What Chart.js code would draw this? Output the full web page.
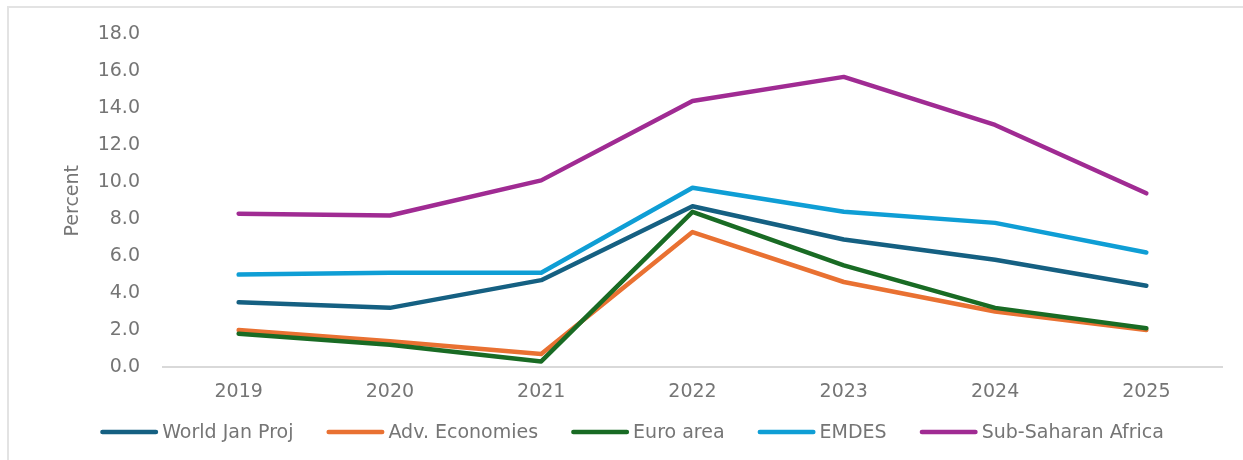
<!DOCTYPE html>
<html>
<head>
<meta charset="utf-8">
<script src="https://cdn.jsdelivr.net/npm/chart.js@4.4.1/dist/chart.umd.min.js"></script>
<style>
  html, body { margin: 0; padding: 0; background: #ffffff; }
  #wrap { position: relative; width: 1243px; height: 460px; overflow: hidden; }
  #frame { position: absolute; left: 7px; top: 6px; right: -10px; bottom: -10px;
           border-left: 2px solid #e3e3e3; border-top: 2px solid #e3e3e3; }
  canvas { position: absolute; left: 0; top: 0; }
</style>
</head>
<body>
<div id="wrap">
  <div id="frame"></div>
  <canvas id="chart" width="1243" height="460"></canvas>
</div>
<script>
// Inflation, percent
const years = ['2019', '2020', '2021', '2022', '2023', '2024', '2025'];
const worldJanProj     = [3.5, 3.2, 4.7, 8.7, 6.9, 5.8, 4.4];
const advEconomies     = [2.0, 1.4, 0.7, 7.3, 4.6, 3.0, 2.0];
const euroArea         = [1.8, 1.2, 0.3, 8.4, 5.5, 3.2, 2.1];
const emdes            = [5.0, 5.1, 5.1, 9.7, 8.4, 7.8, 6.2];
const subSaharanAfrica = [8.3, 8.2, 10.1, 14.4, 15.7, 13.1, 9.4];
const seriesNames = ['World Jan Proj', 'Adv. Economies', 'Euro area', 'EMDES', 'Sub-Saharan Africa'];
const yMin = 0, yMax = 18, yStep = 2;

const seriesValues = [worldJanProj, advEconomies, euroArea, emdes, subSaharanAfrica];
const seriesColors = ['#156082', '#E97132', '#196B24', '#0F9ED5', '#A02B93'];

const textColor = '#757575';
const fontFamily = '"DejaVu Sans", sans-serif';

// Legend drawn as short rounded line swatches followed by the series name
const lineLegend = {
  id: 'lineLegend',
  afterDraw(chart, args, opts) {
    const ctx = chart.ctx;
    ctx.save();
    ctx.font = opts.font;
    const items = chart.data.datasets.map(ds => ({
      text: ds.label, color: ds.borderColor, w: ctx.measureText(ds.label).width
    }));
    const total = items.reduce((s, it) => s + opts.lineLength + opts.gap + it.w, 0)
                + opts.spacing * (items.length - 1);
    let x = opts.centerX - total / 2;
    const y = opts.y;
    ctx.textBaseline = 'middle';
    ctx.textAlign = 'left';
    items.forEach(it => {
      ctx.strokeStyle = it.color;
      ctx.lineWidth = opts.lineWidth;
      ctx.lineCap = 'round';
      ctx.beginPath();
      ctx.moveTo(x + opts.lineWidth / 2, y);
      ctx.lineTo(x + opts.lineLength - opts.lineWidth / 2, y);
      ctx.stroke();
      ctx.fillStyle = opts.color;
      ctx.fillText(it.text, x + opts.lineLength + opts.gap, y + 1);
      x += opts.lineLength + opts.gap + it.w + opts.spacing;
    });
    ctx.restore();
  }
};

const datasets = seriesNames.map((name, i) => ({
  label: name,
  data: seriesValues[i],
  borderColor: seriesColors[i],
  backgroundColor: seriesColors[i],
  borderWidth: 4.5,
  borderCapStyle: 'round',
  borderJoinStyle: 'round',
  pointRadius: 0,
  pointHoverRadius: 0,
  tension: 0,
  fill: false,
  order: seriesNames.length - i
}));

new Chart(document.getElementById('chart'), {
  type: 'line',
  data: { labels: years, datasets },
  plugins: [lineLegend],
  options: {
    responsive: false,
    animation: false,
    devicePixelRatio: 1,
    layout: { padding: { top: 16.6, right: 21, bottom: 0, left: 0 } },
    plugins: {
      legend: { display: false },
      tooltip: { enabled: false },
      lineLegend: {
        font: '19px ' + fontFamily,
        color: textColor,
        lineLength: 58,
        lineWidth: 4.5,
        gap: 4,
        spacing: 33,
        centerX: 632,
        y: 432
      }
    },
    scales: {
      x: {
        offset: true,
        grid: { display: true, color: 'rgba(0,0,0,0)', drawTicks: false },
        border: { display: true, color: '#d9d9d9', width: 2 },
        ticks: { color: textColor, font: { family: fontFamily, size: 19 }, padding: 14 },
        afterFit(scale) { scale.height = 93; }
      },
      y: {
        min: yMin,
        max: yMax,
        grid: { display: false, drawTicks: false },
        border: { display: false },
        ticks: {
          stepSize: yStep,
          color: textColor,
          font: { family: fontFamily, size: 19 },
          padding: 23,
          callback: v => Number(v).toFixed(1)
        },
        title: {
          display: true,
          text: 'Percent',
          color: textColor,
          font: { family: fontFamily, size: 19 },
          padding: { top: 62, bottom: 0 }
        },
        afterFit(scale) { scale.width = 163; }
      }
    }
  }
});
</script>
</body>
</html>
